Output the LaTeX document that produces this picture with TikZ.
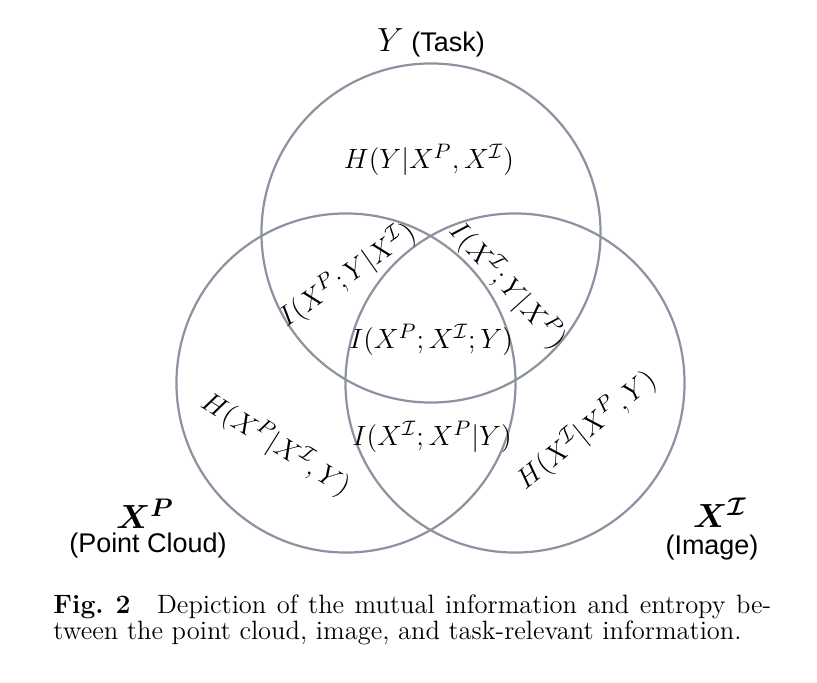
\documentclass[tikz,border=0pt]{standalone}
\usepackage{amsmath}
\usepackage{fontspec}
\newfontfamily\arialfont{Liberation Sans}
\definecolor{circ}{RGB}{140,146,160}
\begin{document}
\begin{tikzpicture}[x=0.43pt,y=-0.43pt,
  ring/.style={draw=circ, line width=0.95pt, circle, minimum size=145.8pt, inner sep=0pt},
  mlab/.style={font=\fontsize{12.3pt}{14pt}\selectfont, inner sep=0pt},
  blab/.style={font=\fontsize{15pt}{17pt}\selectfont, inner sep=0pt},
  slab/.style={font=\arialfont\fontsize{11.6pt}{13pt}\selectfont, inner sep=0pt}]
\useasboundingbox (0,0) rectangle (817,682);
% circles
\node[ring] (ctop) at (431,233) {};
\node[ring] (cleft) at (346,383) {};
\node[ring] (cright) at (515,383) {};
% set labels
\node[inner sep=0pt] (ylab) at (431,43) {{\fontsize{15pt}{17pt}\selectfont$Y$} {\arialfont\fontsize{11.6pt}{13pt}\selectfont(Task)}};
\node[blab] (xp) at (145,514) {$\boldsymbol{X^{P}}$};
\node[slab] (xpname) at (148,546) {(Point Cloud)};
\node[blab] (xi) at (720,513) {$\boldsymbol{X^{\mathcal{I}}}$};
\node[slab] (xiname) at (712,548) {(Image)};
% region labels
\node[mlab] (hy) at (429,160) {$H(Y|X^P,X^{\mathcal I})$};
\node[mlab, rotate=35] (ipy) at (347,275) {$I(X^P;Y|X^{\mathcal I})$};
\node[mlab, rotate=-48] (iiy) at (508,285) {$I(X^{\mathcal I};Y|X^P)$};
\node[mlab] (ipiy) at (431,340) {$I(X^P;X^{\mathcal I};Y)$};
\node[mlab] (iip) at (432,437) {$I(X^{\mathcal I};X^P|Y)$};
\node[mlab, rotate=-32] (hp) at (276,444) {$H(X^P|X^{\mathcal I},Y)$};
\node[mlab, rotate=39] (hi) at (586,430) {$H(X^{\mathcal I}|X^P,Y)$};
% caption
\node[anchor=base west, inner sep=0pt] (cap) at (53,613) {\parbox[t]{308.7pt}{\fontsize{11.4pt}{11.6pt}\selectfont\textbf{Fig.~2}\quad Depiction of the mutual information and entropy be-\linebreak tween the point cloud, image, and task-relevant information.}};
\end{tikzpicture}
\end{document}
